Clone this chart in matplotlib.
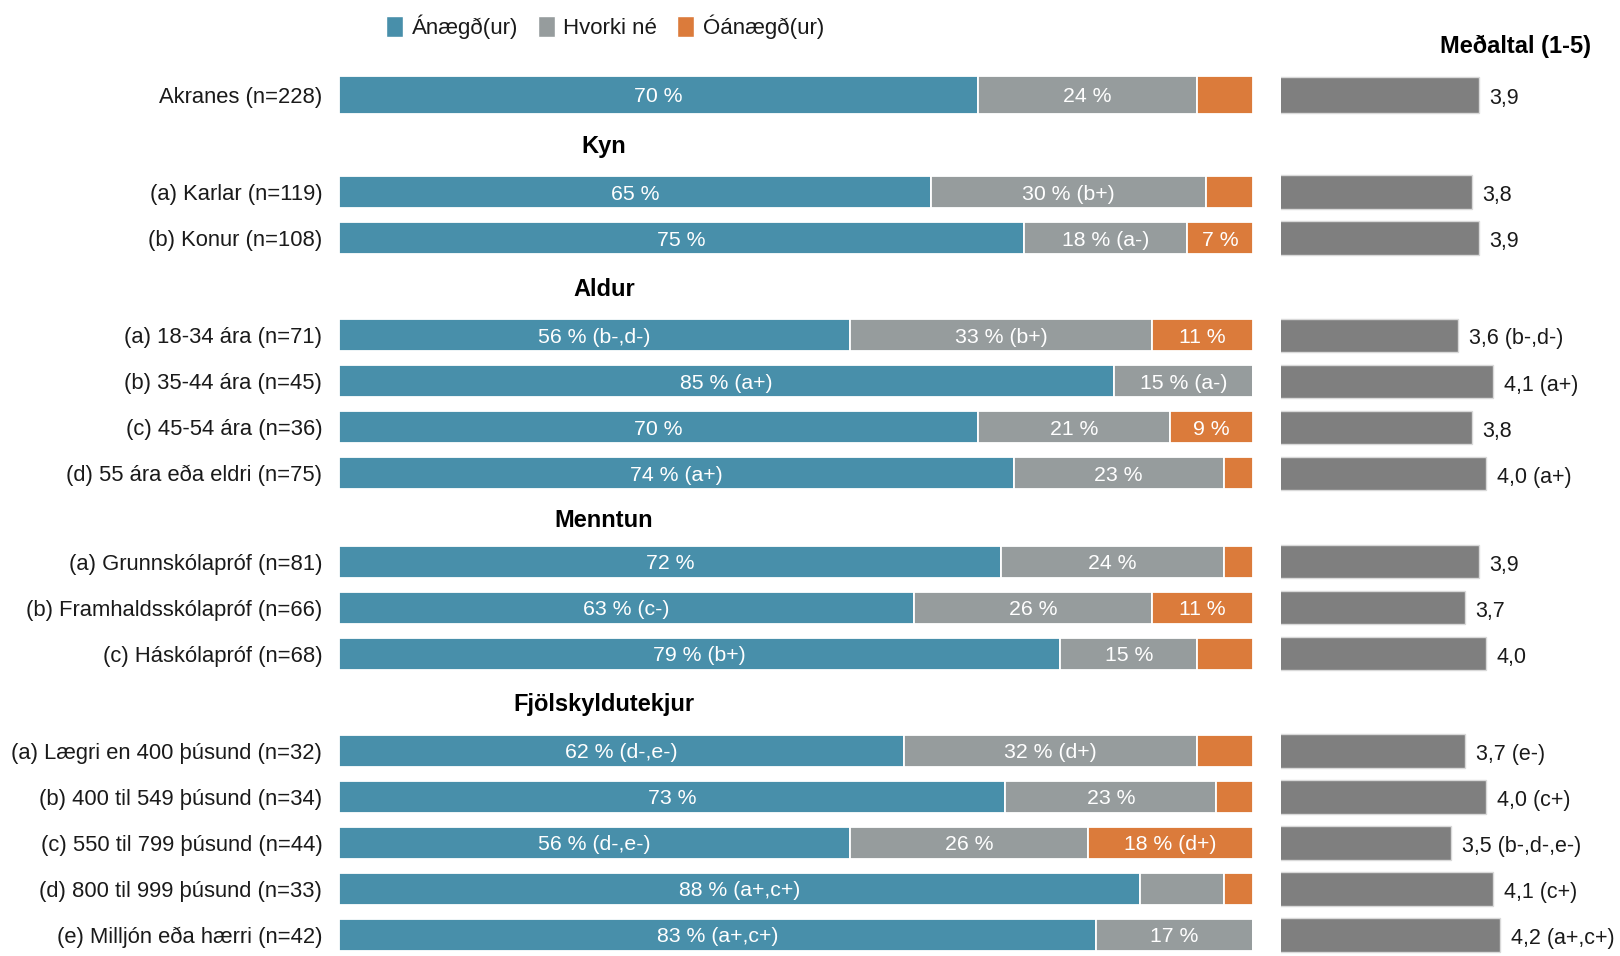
import matplotlib
matplotlib.use("Agg")
import matplotlib.pyplot as plt
from matplotlib.patches import Patch

plt.rcParams['font.family'] = ['Liberation Sans', 'DejaVu Sans']

# --- data ---
row_labels = [
    "Akranes (n=228)",
    "(a) Karlar (n=119)", "(b) Konur (n=108)",
    "(a) 18-34 ára (n=71)", "(b) 35-44 ára (n=45)", "(c) 45-54 ára (n=36)",
    "(d) 55 ára eða eldri (n=75)",
    "(a) Grunnskólapróf (n=81)", "(b) Framhaldsskólapróf (n=66)", "(c) Háskólapróf (n=68)",
    "(a) Lægri en 400 þúsund (n=32)", "(b) 400 til 549 þúsund (n=34)",
    "(c) 550 til 799 þúsund (n=44)", "(d) 800 til 999 þúsund (n=33)",
    "(e) Milljón eða hærri (n=42)",
]
row_group = [0, 1, 1, 2, 2, 2, 2, 3, 3, 3, 4, 4, 4, 4, 4]
group_titles = {1: "Kyn", 2: "Aldur", 3: "Menntun", 4: "Fjölskyldutekjur"}

series_names = ["Ánægð(ur)", "Hvorki né", "Óánægð(ur)"]
satisfied = [69.9, 64.8, 74.9, 55.9, 84.8, 69.9, 73.8, 72.4, 62.9, 78.9, 61.8, 72.9, 55.9, 87.6, 82.8]
neutral = [24.0, 30.05, 17.9, 33.05, 15.2, 21.0, 23.0, 24.4, 26.05, 15.0, 32.1, 23.1, 26.1, 9.2, 17.2]
dissatisfied = [6.1, 5.15, 7.2, 11.05, 0, 9.1, 3.2, 3.2, 11.05, 6.1, 6.1, 4.0, 18.0, 3.2, 0]

sat_text = ["70 %", "65 %", "75 %", "56 % (b-,d-)", "85 % (a+)", "70 %", "74 % (a+)", "72 %",
            "63 % (c-)", "79 % (b+)", "62 % (d-,e-)", "73 %", "56 % (d-,e-)", "88 % (a+,c+)",
            "83 % (a+,c+)"]
neu_text = ["24 %", "30 % (b+)", "18 % (a-)", "33 % (b+)", "15 % (a-)", "21 %", "23 %", "24 %",
            "26 %", "15 %", "32 % (d+)", "23 %", "26 %", "", "17 %"]
dis_text = ["", "", "7 %", "11 %", "", "9 %", "", "", "11 %", "", "", "", "18 % (d+)", "", ""]

means = [3.9, 3.8, 3.9, 3.6, 4.1, 3.8, 4.0, 3.9, 3.7, 4.0, 3.7, 4.0, 3.5, 4.1, 4.2]
mean_marks = ["", "", "", " (b-,d-)", " (a+)", "", " (a+)", "", "", "", " (e-)", " (c+)",
              " (b-,d-,e-)", " (c+)", " (a+,c+)"]

colors = ["#488FAA", "#969C9D", "#DB7B3B"]
mean_color = "#7F7F7F"
text_color = "#1A1A1A"

# --- layout: rows step by 1, a group title opens a gap ---
group_gap = {1: 2.11, 2: 2.11, 3: 1.93, 4: 2.11}
slots, header_slots = [], {}
pos, prev = 0.0, None
for i, g in enumerate(row_group):
    if i > 0:
        if g != prev and g in group_gap:
            pos += group_gap[g]
            header_slots[g] = pos - group_gap[g] / 2
        else:
            pos += 1
    slots.append(pos)
    prev = g
heights = [0.826 if g == 0 else 0.696 for g in row_group]
mheights = [0.78 if g == 0 else 0.72 for g in row_group]

W, H = 1620, 956
fig = plt.figure(figsize=(W / 100, H / 100), dpi=100)
ylim = (18.717, -2.065)

# stacked bars
ax = fig.add_axes([339 / W, 0, (1253 - 339) / W, 1])
left = [0] * len(slots)
for vals, texts, c in zip([satisfied, neutral, dissatisfied], [sat_text, neu_text, dis_text], colors):
    ax.barh(slots, vals, left=left, height=heights, color=c, edgecolor="white", linewidth=1.3)
    for y, l, v, t in zip(slots, left, vals, texts):
        if t:
            ax.text(l + v / 2, y, t, ha="center", va="center_baseline", color="white",
                    fontsize=15.3)
    left = [a + b for a, b in zip(left, vals)]

for g, s in header_slots.items():
    ax.text(29, s, group_titles[g], ha="center", va="center_baseline", fontsize=17,
            fontweight="bold", color="black")

ax.set_xlim(0, 100)
ax.set_ylim(*ylim)
ax.set_yticks(slots)
ax.set_yticklabels(row_labels, fontsize=15.8, color=text_color)
ax.tick_params(axis="y", length=0, pad=12)
ax.set_xticks([])
for sp in ax.spines.values():
    sp.set_visible(False)

# mean bars
ax2 = fig.add_axes([1281 / W, 0, (W - 1281) / W, 1])
ax2.barh(slots, means, height=mheights, color=mean_color, edgecolor="#D9D9D9", linewidth=1)
for y, m, mk in zip(slots, means, mean_marks):
    ax2.text(m + 0.15, y + 0.03, f"{m:.1f}".replace(".", ",") + mk, ha="left",
             va="center_baseline", fontsize=15.5, color=text_color)
ax2.set_xlim(1.07, 1.07 + (W - 1281) / 70)
ax2.set_ylim(*ylim)
ax2.axis("off")

fig.text(1591 / W, 1 - 46 / H, "Meðaltal (1-5)", ha="right", va="center", fontsize=17,
         fontweight="bold", color="black")

handles = [Patch(facecolor=c, edgecolor="white") for c in colors]
fig.legend(handles, series_names, loc="center left", bbox_to_anchor=(386 / W, 1 - 27 / H),
           ncol=3, frameon=False, fontsize=16, borderpad=0, borderaxespad=0,
           handlelength=0.75, handleheight=1.1, handletextpad=0.4, columnspacing=0.9,
           labelcolor=text_color)

fig.savefig("out.png", dpi=100)
